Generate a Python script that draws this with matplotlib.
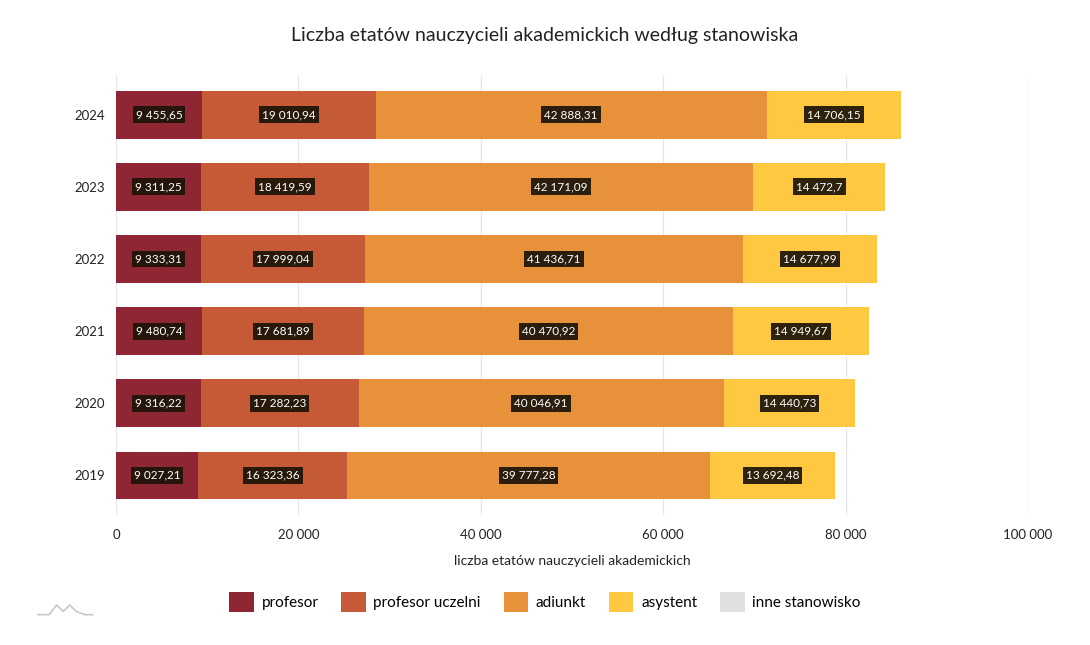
import matplotlib
matplotlib.use("Agg")
from matplotlib import pyplot as plt
from matplotlib.patches import Patch
import numpy as np

plt.rcParams['font.family'] = ['Lato', 'DejaVu Sans']

years = ['2024', '2023', '2022', '2021', '2020', '2019']
profesor = [9455.65, 9311.25, 9333.31, 9480.74, 9316.22, 9027.21]
profesor_uczelni = [19010.94, 18419.59, 17999.04, 17681.89, 17282.23, 16323.36]
adiunkt = [42888.31, 42171.09, 41436.71, 40470.92, 40046.91, 39777.28]
asystent = [14706.15, 14472.7, 14677.99, 14949.67, 14440.73, 13692.48]
inne = [0, 0, 0, 0, 0, 0]

names = ['profesor', 'profesor uczelni', 'adiunkt', 'asystent', 'inne stanowisko']
colors = ['#8e2633', '#c65a37', '#e8913b', '#fec841', '#e0e0e0']
series = [profesor, profesor_uczelni, adiunkt, asystent, inne]


def fmt(v):
    s = '{:,.2f}'.format(v).rstrip('0').rstrip('.')
    return s.replace(',', ' ').replace('.', ',')


fig = plt.figure(figsize=(10.9, 6.45), dpi=100)
ax = fig.add_axes([0.1064, 0.2016, 0.8367, 0.682])

y = np.arange(len(years))[::-1]
left = np.zeros(len(years))
for vals, c in zip(series, colors):
    vals = np.array(vals, dtype=float)
    ax.barh(y, vals, left=left, height=0.66, color=c, zorder=2)
    for yi, l, v in zip(y, left, vals):
        if v > 0:
            ax.text(l + v / 2, yi, fmt(v), ha='center', va='center',
                    fontsize=8.5, color='white', zorder=3,
                    bbox=dict(boxstyle='square,pad=0.25', fc='#1c1408',
                              ec='none', alpha=0.92))
    left += vals

ax.set_xlim(0, 100000)
ax.set_ylim(-0.55, 5.55)
ax.set_xticks(range(0, 100001, 20000))
ax.set_xticklabels(['0', '20 000', '40 000', '60 000', '80 000', '100 000'])
ax.set_yticks(y)
ax.set_yticklabels(years)
ax.tick_params(length=0, labelsize=9.5, colors='#222222')
ax.tick_params(axis='x', pad=10)
ax.tick_params(axis='y', pad=8)
ax.grid(axis='x', color='#e6e6e6', linewidth=0.9, zorder=0)
for s in ax.spines.values():
    s.set_visible(False)
ax.set_xlabel('liczba etatów nauczycieli akademickich', fontsize=10,
              color='#222222', labelpad=10)

fig.text(0.5, 0.945, 'Liczba etatów nauczycieli akademickich według stanowiska',
         ha='center', va='center', fontsize=14, color='#222222')

handles = [Patch(facecolor=c, edgecolor='none') for c in colors]
fig.legend(handles, names, loc='center', bbox_to_anchor=(0.5, 0.067), ncol=5,
           frameon=False, fontsize=11, handlelength=1.6, handleheight=1.6,
           handletextpad=0.5, columnspacing=1.5)

# small logo, bottom left
lx = [0.035, 0.045, 0.052, 0.058, 0.064, 0.07, 0.078, 0.085]
ly = [0.047, 0.047, 0.062, 0.052, 0.062, 0.052, 0.047, 0.047]
fig.add_artist(plt.Line2D(lx, ly, color='#c8c8c8', linewidth=1.2))

fig.savefig('out.png', dpi=100)
